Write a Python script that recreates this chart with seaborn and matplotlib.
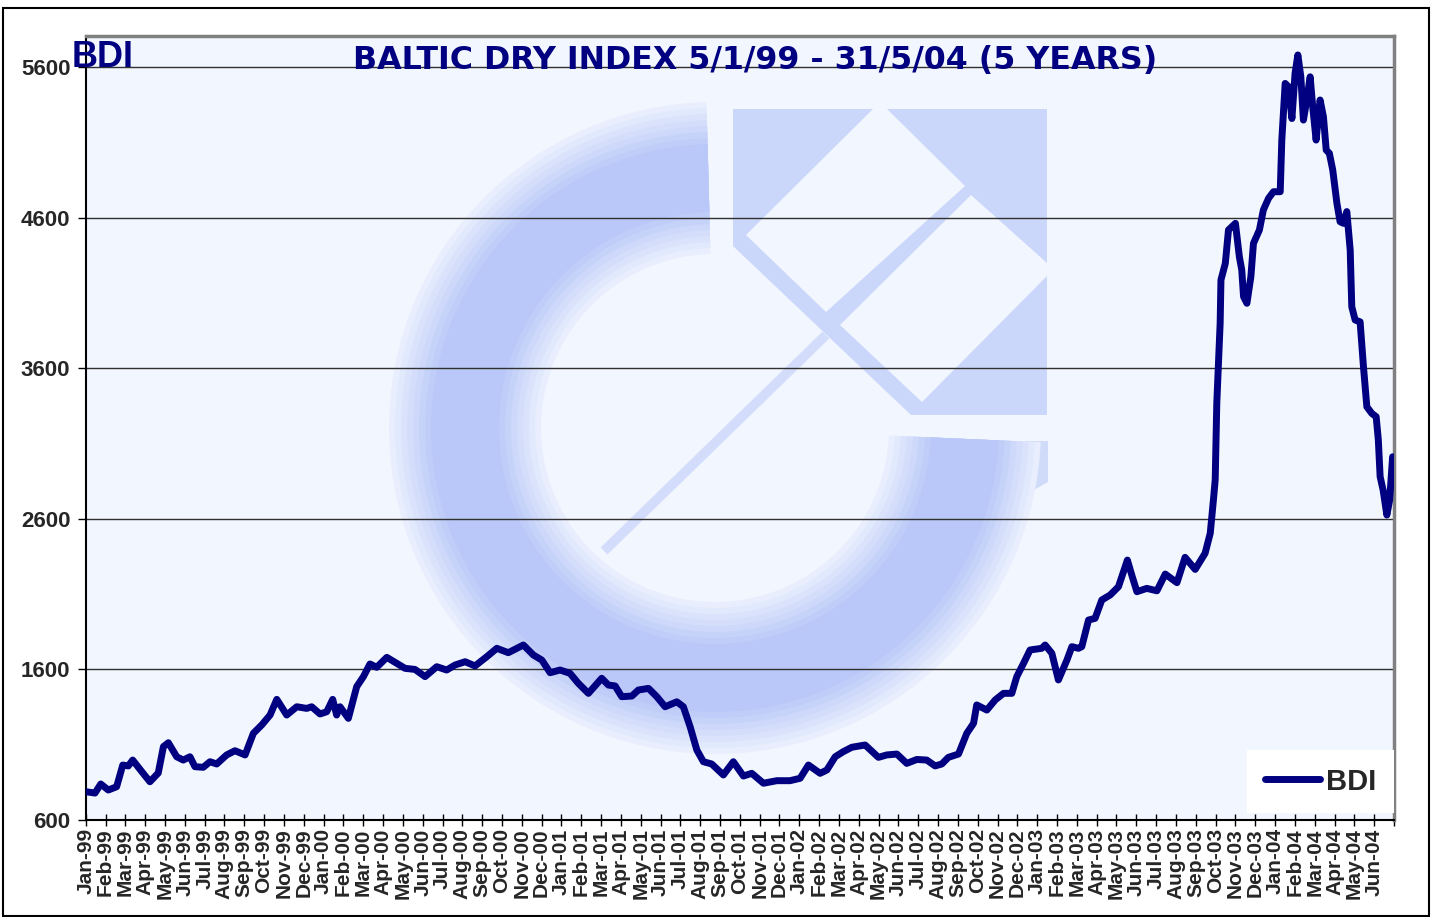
import pandas as pd
import seaborn as sns
import matplotlib.pyplot as plt
import matplotlib.colors as mcolors
from matplotlib.patches import Wedge, Polygon, Rectangle

# BDI readings, x = months since the Jan-99 tick
month_pos = [0.00, 0.47, 0.76, 1.14, 1.56, 1.87, 2.15, 2.37, 2.83, 3.24,
             3.66, 3.92, 4.17, 4.59, 4.92, 5.26, 5.51, 5.93, 6.27, 6.61,
             7.11, 7.53, 8.04, 8.46, 8.88, 9.30, 9.64, 10.14, 10.65, 11.15,
             11.40, 11.82, 12.16, 12.46, 12.66, 12.83, 13.25, 13.67, 14.01, 14.34,
             14.68, 15.19, 15.69, 16.11, 16.61, 17.12, 17.71, 18.21, 18.63, 19.14,
             19.64, 20.23, 20.74, 21.32, 22.08, 22.58, 23.01, 23.43, 23.93, 24.43,
             24.85, 25.36, 26.03, 26.37, 26.71, 27.04, 27.55, 27.88, 28.39, 28.81,
             29.23, 29.82, 30.15, 30.49, 30.83, 31.16, 31.58, 32.17, 32.67, 33.18,
             33.60, 34.19, 34.86, 35.53, 36.04, 36.46, 37.05, 37.39, 37.81, 38.22,
             38.65, 39.32, 39.99, 40.41, 40.92, 41.42, 41.93, 42.43, 42.85, 43.19,
             43.52, 44.03, 44.45, 44.79, 44.95, 45.46, 45.88, 46.30, 46.72, 46.97,
             47.31, 47.64, 48.23, 48.40, 48.74, 49.07, 49.50, 49.75, 50.08, 50.25,
             50.59, 50.92, 51.26, 51.68, 52.10, 52.55, 52.77, 53.03, 53.53, 54.04,
             54.46, 55.05, 55.46, 55.97, 56.47, 56.73, 56.89, 56.98, 57.06, 57.23,
             57.27, 57.49, 57.65, 58.00, 58.20, 58.32, 58.41, 58.58, 58.78, 58.91,
             59.21, 59.41, 59.67, 59.92, 60.26, 60.34, 60.51, 60.68, 60.85, 61.01,
             61.15, 61.30, 61.43, 61.60, 61.77, 61.90, 62.07, 62.27, 62.44, 62.58,
             62.74, 62.91, 63.12, 63.28, 63.45, 63.62, 63.79, 63.87, 64.04, 64.29,
             64.46, 64.63, 64.88, 65.10, 65.21, 65.30, 65.45, 65.64, 65.78, 65.93]
bdi = [788, 779, 839, 799, 821, 965, 959, 998, 921, 854,
       912, 1087, 1113, 1020, 998, 1020, 954, 950, 987, 972,
       1032, 1060, 1032, 1176, 1231, 1297, 1401, 1297, 1352, 1341,
       1352, 1304, 1319, 1401, 1297, 1352, 1275, 1485, 1552, 1636,
       1614, 1680, 1640, 1607, 1600, 1552, 1618, 1596, 1629, 1651,
       1623, 1684, 1740, 1711, 1762, 1696, 1662, 1578, 1596, 1574,
       1508, 1441, 1541, 1496, 1490, 1419, 1423, 1463, 1474, 1419,
       1352, 1385, 1352, 1220, 1065, 987, 972, 899, 987, 892,
       910, 844, 861, 861, 877, 965, 910, 932, 1020, 1054,
       1083, 1098, 1016, 1032, 1038, 976, 1002, 998, 959, 972,
       1016, 1038, 1176, 1242, 1364, 1330, 1397, 1441, 1441, 1552,
       1640, 1729, 1740, 1762, 1707, 1530, 1662, 1751, 1740, 1751,
       1928, 1939, 2061, 2094, 2149, 2326, 2227, 2116, 2138, 2122,
       2233, 2176, 2344, 2264, 2371, 2504, 2725, 2858, 3367, 3900,
       4186, 4296, 4518, 4562, 4339, 4252, 4075, 4031, 4208, 4429,
       4518, 4651, 4728, 4772, 4772, 5115, 5491, 5469, 5258, 5559,
       5680, 5535, 5248, 5381, 5535, 5336, 5115, 5381, 5270, 5049,
       5027, 4916, 4695, 4573, 4562, 4640, 4385, 4008, 3920, 3908,
       3610, 3344, 3300, 3278, 3123, 2880, 2791, 2625, 2725, 3012]

month_names = ['Jan', 'Feb', 'Mar', 'Apr', 'May', 'Jun',
               'Jul', 'Aug', 'Sep', 'Oct', 'Nov', 'Dec']
years = ['99', '00', '01', '02', '03', '04']
tick_labels = [f'{m}-{y}' for y in years for m in month_names][:66]
y_ticks = [600, 1600, 2600, 3600, 4600, 5600]

sns.set_style('white')
plt.rcParams['font.family'] = ['Liberation Sans', 'DejaVu Sans']

navy = '#000080'
plot_bg = '#f2f6fe'

W, H = 1436, 917
fig = plt.figure(figsize=(W / 100, H / 100), dpi=100)
L, R, T, B = 85.7, 1394, 36, 820
rect = [L / W, 1 - B / H, (R - L) / W, (B - T) / H]

# background axes in pixel units for the faint logo
bg = fig.add_axes(rect, zorder=0)
bg.set_xlim(L, R)
bg.set_ylim(B, T)
bg.set_facecolor(plot_bg)
bg.set_xticks([])
bg.set_yticks([])
for s in bg.spines.values():
    s.set_visible(False)

bg.add_patch(Polygon([(902, 441), (1048, 441), (1048, 482), (1030, 492),
                      (1021, 520), (900, 520)],
                     facecolor='#d0dbfa', edgecolor='none'))
c0 = mcolors.to_rgb('#e8eefd')
c1 = mcolors.to_rgb('#b9c8f8')
for i in range(8):
    t = i / 7
    col = tuple(a + (b - a) * t for a, b in zip(c0, c1))
    bg.add_patch(Wedge((715, 428), 326 - i * 6, 2.5, 268.5, width=152 - i * 12,
                       facecolor=col, edgecolor='none'))
bg.add_patch(Polygon([(733, 109), (1047, 109), (1047, 415), (911, 415), (733, 246)],
                     facecolor='#cbd7fa', edgecolor='none'))
bg.add_patch(Polygon([(746, 235), (873, 109), (887, 109), (965, 186), (826, 312)],
                     facecolor=plot_bg, edgecolor='none'))
bg.add_patch(Polygon([(840, 325), (971, 195), (1047, 263), (1047, 276), (922, 402)],
                     facecolor=plot_bg, edgecolor='none'))
bg.plot([826, 604], [335, 551], color='#d3ddfb', lw=7, solid_capstyle='butt')

# main chart
ax = fig.add_axes(rect, zorder=1)
ax.set_facecolor('none')
df = pd.DataFrame({'month': month_pos, 'BDI': bdi})
sns.lineplot(data=df, x='month', y='BDI', ax=ax, color=navy, lw=5,
             label='BDI', zorder=3)

ax.set_xlim(0, 66)
ax.set_ylim(600, 5806)
ax.set_xticks(range(67))
ax.set_xticklabels(tick_labels + [''], rotation=90, fontsize=15, fontweight='bold')
ax.set_yticks(y_ticks)
ax.set_yticklabels([str(v) for v in y_ticks], fontsize=16, fontweight='bold')
ax.set_xlabel('')
ax.set_ylabel('')
ax.tick_params(axis='x', direction='inout', length=9, width=1, pad=1.5,
               bottom=True, color='black')
ax.tick_params(axis='y', direction='out', length=6, width=1, pad=5,
               left=True, color='black')
ax.yaxis.grid(True, color='#303030', lw=1)
ax.xaxis.grid(False)

for side in ['top', 'right']:
    ax.spines[side].set_color('#808080')
    ax.spines[side].set_linewidth(2.5)
for side in ['left', 'bottom']:
    ax.spines[side].set_color('black')
    ax.spines[side].set_linewidth(1.5)

leg = ax.legend(loc='lower right', bbox_to_anchor=(1.0, 7 / 784), frameon=True,
                fancybox=False, facecolor='white', edgecolor='none', framealpha=1,
                prop={'weight': 'bold', 'size': 21}, handlelength=1.9,
                handletextpad=0.2, borderpad=0.6, borderaxespad=0)

fig.text(755 / W, 1 - 61 / H, 'BALTIC DRY INDEX 5/1/99 - 31/5/04 (5 YEARS)',
         ha='center', va='center', fontsize=22.8, fontweight='bold', color=navy,
         family=['DejaVu Sans'], zorder=5)
fig.text(72 / W, 1 - 67 / H, 'BDI', ha='left', va='baseline', fontsize=26,
         fontweight='bold', color=navy, zorder=5)

fig.patches.append(Rectangle((3 / W, 1 / H), 1426 / W, 908 / H, transform=fig.transFigure,
                             fill=False, edgecolor='black', lw=1.5))

fig.savefig('out.png', dpi=100)
